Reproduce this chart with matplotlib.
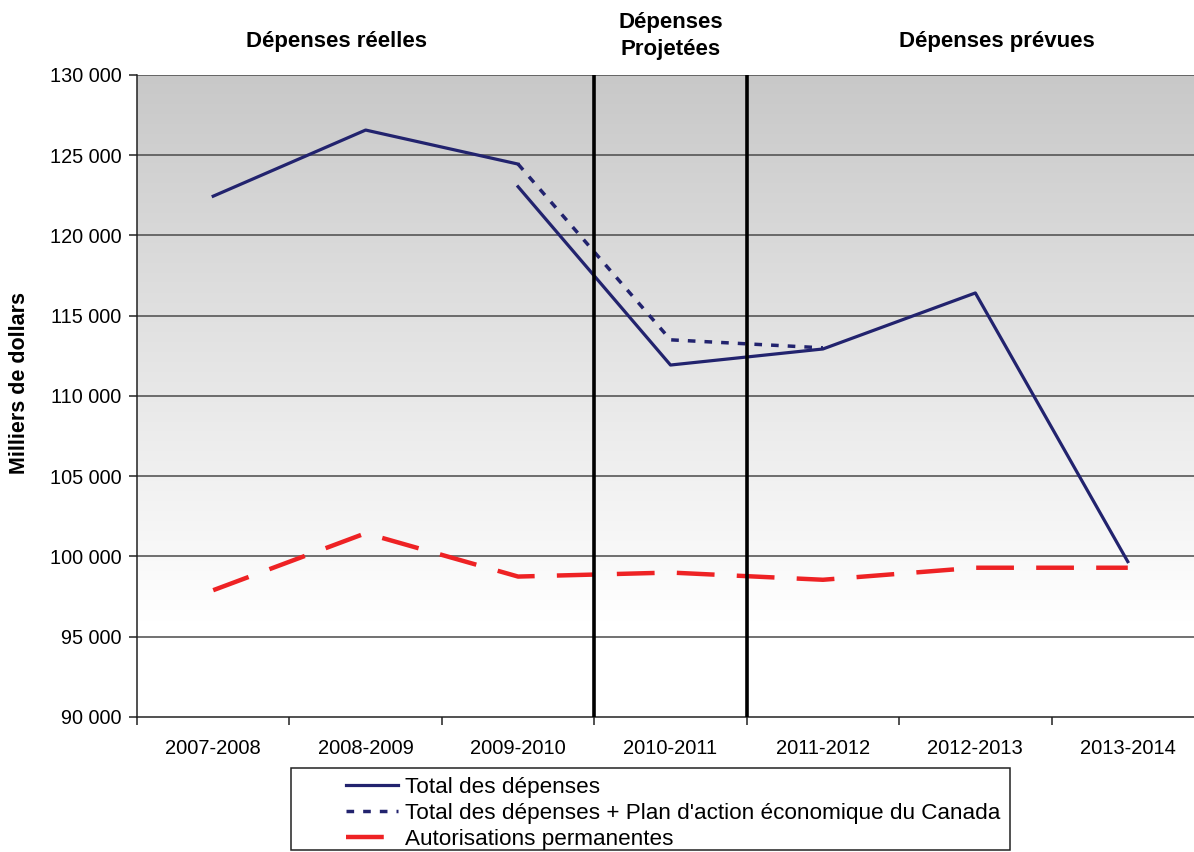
import numpy as np
import matplotlib.pyplot as plt
from matplotlib.lines import Line2D
from matplotlib.patches import Rectangle
from matplotlib.ticker import FuncFormatter

plt.rcParams['font.family'] = ['Liberation Sans', 'DejaVu Sans']

years = ['2007-2008', '2008-2009', '2009-2010', '2010-2011',
         '2011-2012', '2012-2013', '2013-2014']
total_reel = [122450, 126570, 124450, np.nan, np.nan, np.nan, np.nan]
total_prevu = [np.nan, np.nan, 123040, 111930, 112930, 116420, 99680]
total_plan = [np.nan, np.nan, 124450, 113500, 113000, np.nan, np.nan]
autorisations = [97900, 101450, 98750, 99000, 98550, 99300, 99300]

navy = '#22236e'
red = '#ee2224'

fig = plt.figure(figsize=(11.94, 8.52), dpi=100)
ax = fig.add_axes([137 / 1194, 1 - 717 / 852, 1067 / 1194, 642 / 852])

x = np.arange(len(years))

# gradient background (gray at top -> white lower down)
levels = np.linspace(130000, 90000, 400)
shade = np.clip(0.785 + (130000 - levels) / 34000 * 0.215, 0, 1).reshape(-1, 1)
ax.imshow(np.dstack([shade, shade, shade]), extent=[-0.5, 6.5, 90000, 130000],
          origin='upper', aspect='auto', zorder=0)
ax.set_xlim(-0.5, 6.5)
ax.set_ylim(90000, 130000)

for yv in range(95000, 130001, 5000):
    ax.axhline(yv, color='#4a4a4a', lw=1.1, zorder=1)

ax.axvline(2.5, color='black', lw=2.6, zorder=4)
ax.axvline(3.5, color='black', lw=2.6, zorder=4)

ax.plot(x, total_reel, color=navy, lw=2.3, zorder=3)
ax.plot(x, total_prevu, color=navy, lw=2.3, zorder=3)
ax.plot(x, total_plan, color=navy, lw=2.5, dashes=(2.2, 2.6), zorder=3)
ax.plot(x, autorisations, color=red, lw=3.2, dashes=(8.5, 5), zorder=3)

for s in ['top', 'right']:
    ax.spines[s].set_visible(False)
for s in ['left', 'bottom']:
    ax.spines[s].set_color('#222222')
    ax.spines[s].set_linewidth(1.1)

ax.set_yticks(range(90000, 130001, 5000))
ax.yaxis.set_major_formatter(FuncFormatter(lambda v, p: f'{int(v):,}'.replace(',', ' ')))
ax.tick_params(axis='y', length=6, width=1.1, color='#222222', labelsize=14.3, pad=5)

ax.set_xticks(x)
ax.set_xticklabels(years)
ax.set_xticks(np.arange(-0.5, 7, 1), minor=True)
ax.tick_params(axis='x', which='major', length=0, labelsize=14.5, pad=16)
ax.tick_params(axis='x', which='minor', length=6, width=1.1, color='#222222')

fig.text(20 / 1194, 1 - 383 / 852, 'Milliers de dollars', rotation=90,
         ha='center', va='center', fontsize=15.5, fontweight='bold')

fig.text(337 / 1194, 1 - 42 / 852, 'Dépenses réelles', ha='center', va='center',
         fontsize=16, fontweight='bold')
fig.text(671 / 1194, 1 - 36 / 852, 'Dépenses\nProjetées', ha='center', va='center',
         fontsize=16, fontweight='bold', linespacing=1.4)
fig.text(997 / 1194, 1 - 42 / 852, 'Dépenses prévues', ha='center', va='center',
         fontsize=16, fontweight='bold')

# legend
fig.patches.append(Rectangle((291 / 1194, 1 - 850 / 852), 719 / 1194, 82 / 852,
                             transform=fig.transFigure, fill=False,
                             edgecolor='#222222', lw=1.1))
handles = [Line2D([], [], color=navy, lw=2.3),
           Line2D([], [], color=navy, lw=2.5, dashes=(2.2, 2.6)),
           Line2D([], [], color=red, lw=3.2, dashes=(8.5, 5))]
labels = ['Total des dépenses',
          "Total des dépenses + Plan d'action économique du Canada",
          'Autorisations permanentes']
fig.legend(handles, labels, loc='upper left',
           bbox_to_anchor=(341 / 1194, 1 - 772 / 852), frameon=False,
           fontsize=16.2, handlelength=2.35, handletextpad=0.3,
           labelspacing=0.24, borderpad=0.2, borderaxespad=0)

fig.savefig('out.png', dpi=100)
